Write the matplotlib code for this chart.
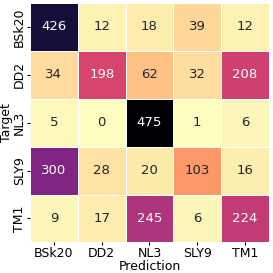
import matplotlib
matplotlib.use("Agg")
import matplotlib.pyplot as plt
import numpy as np
import seaborn as sns

labels = ["BSk20", "DD2", "NL3", "SLY9", "TM1"]
row_bsk20 = [426, 12, 18, 39, 12]
row_dd2 = [34, 198, 62, 32, 208]
row_nl3 = [5, 0, 475, 1, 6]
row_sly9 = [300, 28, 20, 103, 16]
row_tm1 = [9, 17, 245, 6, 224]

cm = np.array([row_bsk20, row_dd2, row_nl3, row_sly9, row_tm1])

fig, ax = plt.subplots(figsize=(2.73, 2.73), dpi=100)
sns.heatmap(cm, annot=True, fmt="d", cmap="magma_r", cbar=False,
            linewidths=0.5, linecolor="white",
            xticklabels=labels, yticklabels=labels,
            annot_kws={"size": 9.5}, ax=ax)
ax.set_xlabel("Prediction", fontsize=9, labelpad=0)
ax.set_ylabel("Target", fontsize=9, labelpad=0)
ax.tick_params(labelsize=9, length=2, pad=1)
plt.subplots_adjust(left=0.11, right=0.985, top=0.989, bottom=0.112)
fig.savefig("out.png", dpi=100)
